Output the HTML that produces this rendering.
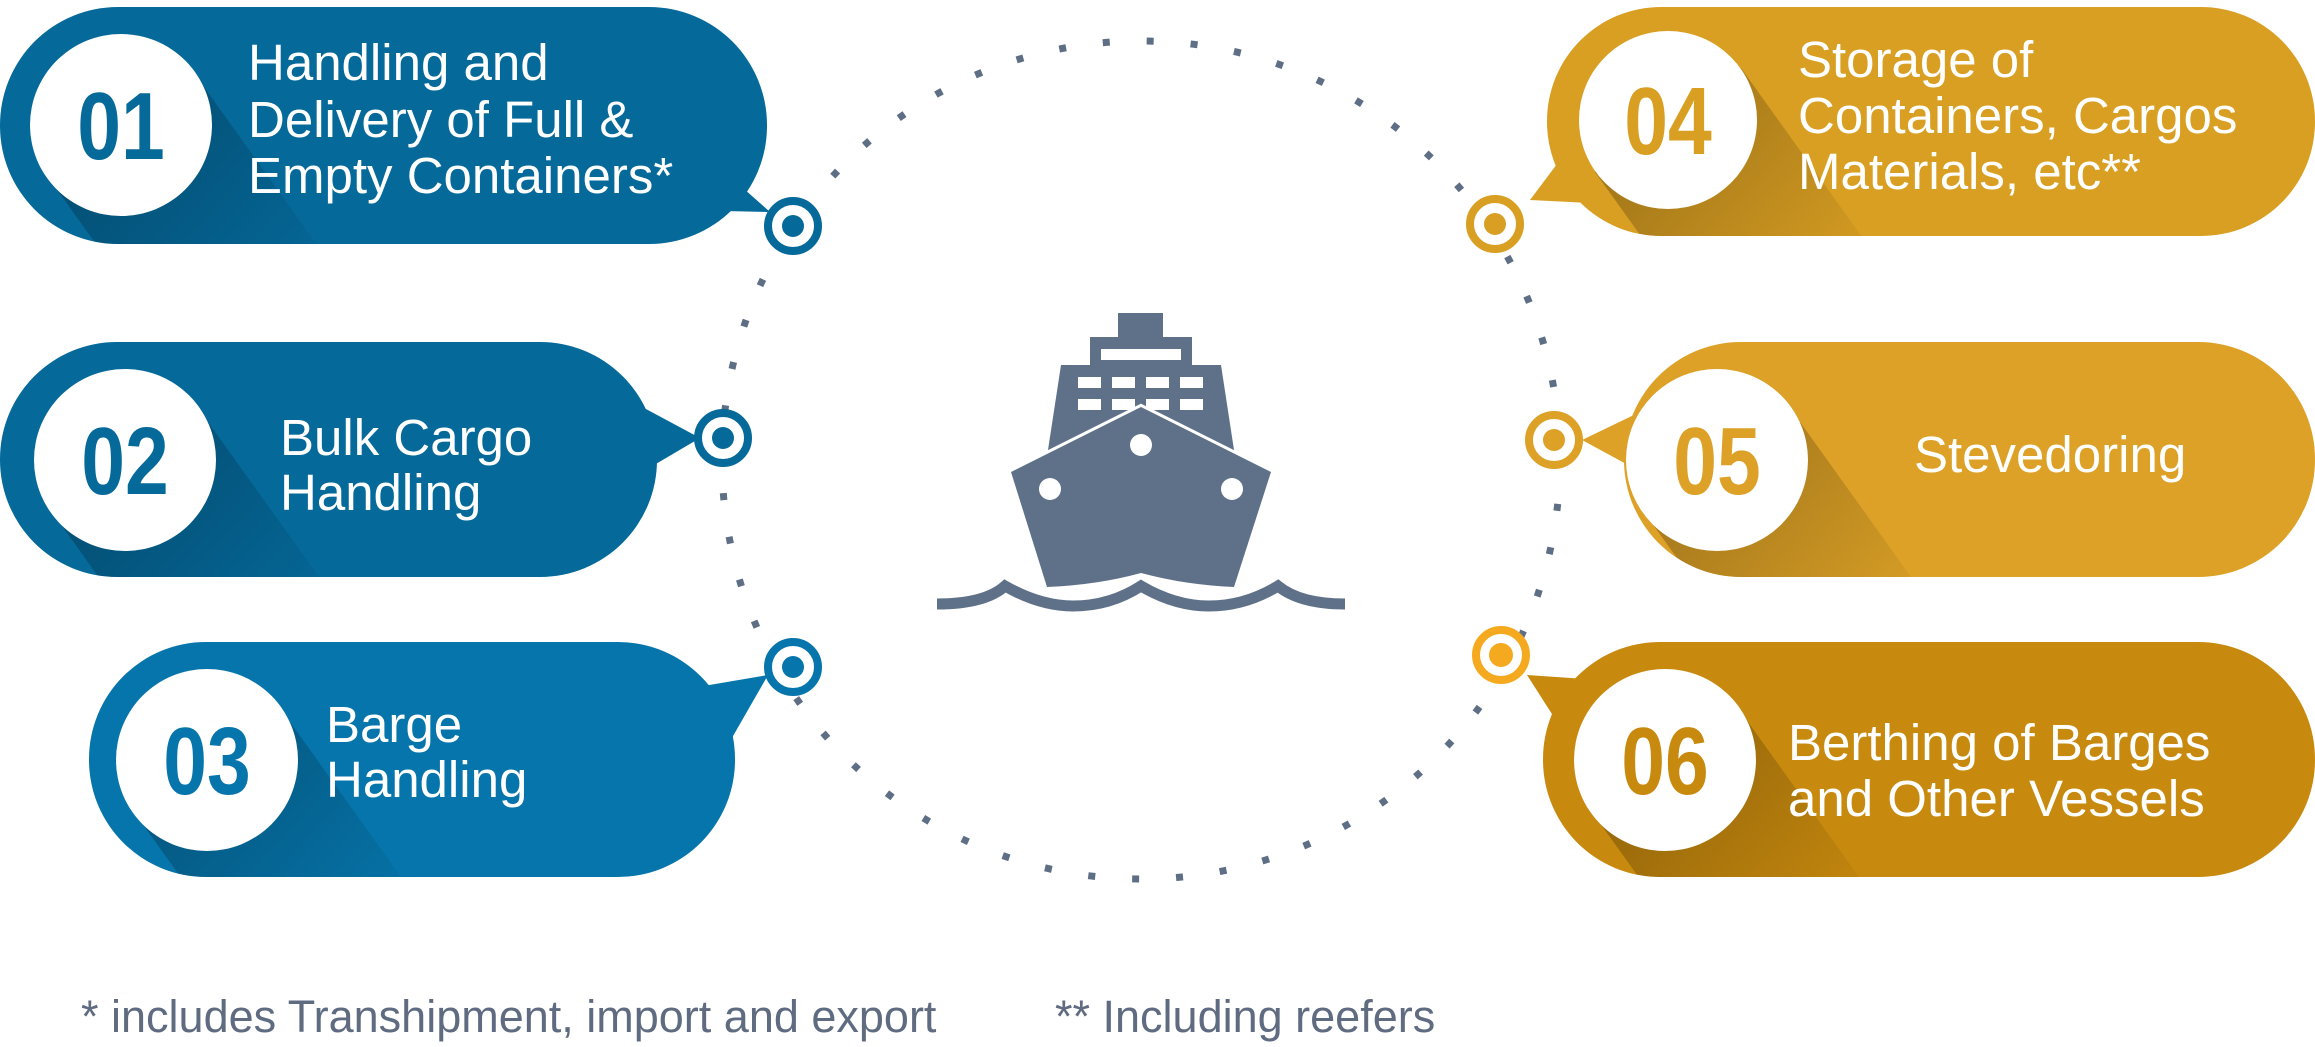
<!DOCTYPE html>
<html><head><meta charset="utf-8"><style>
html,body{margin:0;padding:0;background:#fff;}
svg{display:block;}
.t{font-family:"Liberation Sans",sans-serif;fill:#fff;font-size:51px;}
.n{font-family:"Liberation Sans",sans-serif;font-weight:bold;font-size:96px;}
.f{font-family:"Liberation Sans",sans-serif;fill:#5f6b80;font-size:45px;}
</style></head><body>
<svg width="2315" height="1047" viewBox="0 0 2315 1047" xmlns="http://www.w3.org/2000/svg">
<defs>
<linearGradient id="sh" x1="0" y1="0" x2="1" y2="1"><stop offset="0" stop-color="#000" stop-opacity="0.32"/><stop offset="0.75" stop-color="#000" stop-opacity="0"/></linearGradient>
<clipPath id="c1"><rect x="0" y="7" width="767" height="237" rx="118"/></clipPath>
<clipPath id="c2"><rect x="0" y="342" width="657" height="235" rx="117"/></clipPath>
<clipPath id="c3"><rect x="89" y="642" width="646" height="235" rx="117"/></clipPath>
<clipPath id="c4"><rect x="1547" y="7" width="768" height="229" rx="114"/></clipPath>
<clipPath id="c5"><rect x="1624" y="342" width="691" height="235" rx="117"/></clipPath>
<clipPath id="c6"><rect x="1543" y="642" width="772" height="235" rx="117"/></clipPath>
</defs>

<circle cx="1141" cy="460" r="419" fill="none" stroke="#5e6e85" stroke-width="7" stroke-dasharray="7 37"/>

<g fill="#05699a">
<rect x="0" y="7" width="767" height="237" rx="118"/>
<polygon points="700,150 770,212 680,210"/>
<rect x="0" y="342" width="657" height="235" rx="117"/>
<polygon points="620,395 700,438 620,485"/>
</g>
<g fill="#0675ab">
<rect x="89" y="642" width="646" height="235" rx="117"/>
<polygon points="680,690 768,675 725,750"/>
</g>
<g fill="#d99f22"><rect x="1547" y="7" width="768" height="229" rx="114"/><polygon points="1590,120 1530,200 1630,205"/></g>
<g fill="#dca126"><rect x="1624" y="342" width="691" height="235" rx="117"/><polygon points="1665,400 1582,440 1665,485"/></g>
<g fill="#c88a0e"><rect x="1543" y="642" width="772" height="235" rx="117"/><polygon points="1600,680 1527,675 1575,750"/></g>

<polygon clip-path="url(#c1)" fill="url(#sh)" points="194,73 368,316 222,420 48,177"/>
<polygon clip-path="url(#c2)" fill="url(#sh)" points="198,408 372,651 226,755 52,512"/>
<polygon clip-path="url(#c3)" fill="url(#sh)" points="280,708 454,951 308,1055 134,812"/>
<polygon clip-path="url(#c4)" fill="url(#sh)" points="1741,68 1915,311 1769,415 1595,172"/>
<polygon clip-path="url(#c5)" fill="url(#sh)" points="1790,408 1964,651 1818,755 1644,512"/>
<polygon clip-path="url(#c6)" fill="url(#sh)" points="1738,708 1912,951 1766,1055 1592,812"/>

<g fill="#fff">
<circle cx="121" cy="125" r="91"/><circle cx="125" cy="460" r="91"/><circle cx="207" cy="760" r="91"/>
<circle cx="1668" cy="120" r="89"/><circle cx="1717" cy="460" r="91"/><circle cx="1665" cy="760" r="91"/>
</g>

<g class="n" text-anchor="middle">
<text transform="translate(121,159) scale(0.82,1)" fill="#05699a">01</text>
<text transform="translate(125,494) scale(0.82,1)" fill="#05699a">02</text>
<text transform="translate(207,794) scale(0.82,1)" fill="#0675ab">03</text>
<text transform="translate(1668,154) scale(0.82,1)" fill="#d99f22">04</text>
<text transform="translate(1717,494) scale(0.82,1)" fill="#dca126">05</text>
<text transform="translate(1665,794) scale(0.82,1)" fill="#c88a0e">06</text>
</g>

<g class="t">
<text x="248" y="80">Handling and</text>
<text x="248" y="137">Delivery of Full &amp;</text>
<text x="248" y="193">Empty Containers*</text>
<text x="280" y="455">Bulk Cargo</text>
<text x="280" y="510">Handling</text>
<text x="326" y="742">Barge</text>
<text x="326" y="797">Handling</text>
<text x="1798" y="77">Storage of</text>
<text x="1798" y="133">Containers, Cargos</text>
<text x="1798" y="189">Materials, etc**</text>
<text x="1914" y="472">Stevedoring</text>
<text x="1788" y="760">Berthing of Barges</text>
<text x="1788" y="816">and Other Vessels</text>
</g>

<g fill="#fff" stroke-width="8">
<circle cx="793" cy="226" r="25" stroke="#05699a"/>
<circle cx="723" cy="438" r="25" stroke="#05699a"/>
<circle cx="793" cy="667" r="25" stroke="#0675ab"/>
<circle cx="1495" cy="224" r="25" stroke="#d99f22"/>
<circle cx="1554" cy="440" r="25" stroke="#dca126"/>
<circle cx="1501" cy="655" r="25" stroke="#f5a91e"/>
</g>
<circle cx="793" cy="226" r="11" fill="#05699a"/>
<circle cx="723" cy="438" r="11" fill="#05699a"/>
<circle cx="793" cy="667" r="11" fill="#0675ab"/>
<circle cx="1495" cy="224" r="11" fill="#d99f22"/>
<circle cx="1554" cy="440" r="11" fill="#dca126"/>
<circle cx="1501" cy="655" r="12" fill="#f5a91e"/>

<g fill="#5f7189">
<rect x="1118" y="313" width="45" height="25"/>
<rect x="1090" y="337" width="102" height="29"/>
<polygon points="1061,365 1221,365 1234,450 1048,450"/>
</g>
<g fill="#fff">
<rect x="1101" y="349" width="80" height="11"/>
<rect x="1078" y="377" width="23" height="11"/><rect x="1112" y="377" width="23" height="11"/><rect x="1146" y="377" width="23" height="11"/><rect x="1180" y="377" width="23" height="11"/>
<rect x="1078" y="399" width="23" height="11"/><rect x="1112" y="399" width="23" height="11"/><rect x="1146" y="399" width="23" height="11"/><rect x="1180" y="399" width="23" height="11"/>
</g>
<path d="M1141,407 L1271,472 L1234,587 Q1185,585 1141,573 Q1097,585 1047,587 L1011,472 Z" fill="#5f7189" stroke="#fff" stroke-width="6" paint-order="stroke"/>
<circle cx="1141" cy="445" r="11" fill="#fff"/>
<circle cx="1050" cy="489" r="11" fill="#fff"/>
<circle cx="1232" cy="489" r="11" fill="#fff"/>
<path d="M937,604 Q985,604 1005,586 Q1040,606 1073,606 Q1110,606 1141,586 Q1175,606 1209,606 Q1245,606 1278,586 Q1300,604 1345,604" fill="none" stroke="#5f7189" stroke-width="11"/>

<text class="f" x="81" y="1032">* includes Transhipment, import and export</text>
<text class="f" x="1055" y="1032">** Including reefers</text>
</svg>
</body></html>
